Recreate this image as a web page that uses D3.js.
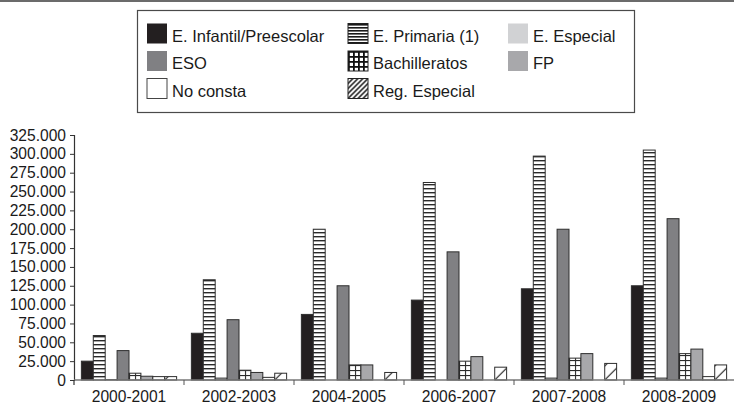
<!DOCTYPE html>
<html>
<head>
<meta charset="utf-8">
<script src="https://cdn.jsdelivr.net/npm/d3@7"></script>
<style>
  html, body { margin: 0; padding: 0; background: #fff; }
  svg { display: block; }
  text { font-family: "Liberation Sans", Arial, Helvetica, sans-serif; fill: #1a1a1a; }
</style>
</head>
<body>
<svg id="chart" width="734" height="405"></svg>
<script>
// ---- data ----
const categories = ["2000-2001", "2002-2003", "2004-2005", "2006-2007", "2007-2008", "2008-2009"];
const seriesNames = ["E. Infantil/Preescolar", "E. Primaria (1)", "E. Especial", "ESO", "Bachilleratos", "FP", "No consta", "Reg. Especial"];
const infantil   = [25000, 62000, 87000, 106000, 121000, 125000];
const primaria   = [59000, 133000, 200000, 262000, 297000, 305000];
const especial   = [500, 2500, 0, 0, 2500, 2500];
const eso        = [39000, 80000, 125000, 170000, 200000, 214000];
const bachiller  = [9000, 13000, 20000, 25000, 29000, 35000];
const fp         = [5000, 10000, 20000, 31000, 35000, 41000];
const noConsta   = [4500, 3500, 0, 0, 0, 4500];
const regEspecial= [4500, 9000, 10000, 17000, 22000, 20000];
const yTicks = [0, 25000, 50000, 75000, 100000, 125000, 150000, 175000, 200000, 225000, 250000, 275000, 300000, 325000];

const seriesValues = [infantil, primaria, especial, eso, bachiller, fp, noConsta, regEspecial];
// legend order (3 columns x 3 rows, row-major)
const legendOrder = [0, 1, 2, 3, 4, 5, 6, 7];

// ---- setup ----
const svg = d3.select("#chart");
const defs = svg.append("defs");
const W = 734, H = 405;
const margin = {left: 74, right: 0, top: 135, bottom: 25};

const loc = d3.formatLocale({decimal: ",", thousands: ".", grouping: [3], currency: ["", "€"]});
const fmt = loc.format(",d");

const x0 = d3.scaleBand().domain(categories).range([margin.left, W - margin.right]).padding(0);
const x1 = d3.scaleBand().domain(d3.range(seriesNames.length)).range([0, x0.bandwidth()])
  .paddingInner(0).paddingOuter(0.62);
const y = d3.scaleLinear().domain([0, 325000]).range([380, 135]);

// top border line
svg.append("rect").attr("x", 0).attr("y", 0).attr("width", W).attr("height", 2).attr("fill", "#6b6b6b");

// ---- patterns ----
const pPrim = defs.append("pattern").attr("id", "primBar").attr("patternUnits", "userSpaceOnUse")
  .attr("x", 0).attr("y", y(0)).attr("width", 8).attr("height", 4);
pPrim.append("rect").attr("width", 8).attr("height", 4).attr("fill", "#fff");
pPrim.append("rect").attr("y", 0).attr("width", 8).attr("height", 1.4).attr("fill", "#2a2a2a");

const pPrimL = defs.append("pattern").attr("id", "primLeg").attr("patternUnits", "userSpaceOnUse")
  .attr("width", 6).attr("height", 3);
pPrimL.append("rect").attr("width", 6).attr("height", 3).attr("fill", "#fff");
pPrimL.append("rect").attr("width", 6).attr("height", 1.6).attr("fill", "#1a1a1a");

const bw = x1.bandwidth();

const colors = {
  0: "#231f20",
  2: "#d1d2d4",
  3: "#808083",
  5: "#a8a8ab",
  6: "#ffffff"
};

function barFill(si, ci, bx) {
  if (colors[si] !== undefined) return colors[si];
  if (si === 1) return "url(#primBar)";
  if (si === 4) {
    const id = "bach" + ci;
    const p = defs.append("pattern").attr("id", id).attr("patternUnits", "userSpaceOnUse")
      .attr("x", bx).attr("y", y(0)).attr("width", bw / 2).attr("height", 5);
    p.append("rect").attr("width", bw / 2).attr("height", 5).attr("fill", "#fff");
    p.append("rect").attr("x", 0).attr("width", 1.1).attr("height", 5).attr("fill", "#2a2a2a");
    p.append("rect").attr("y", 0).attr("width", bw / 2).attr("height", 1.1).attr("fill", "#2a2a2a");
    return "url(#" + id + ")";
  }
  if (si === 7) {
    const id = "reg" + ci;
    const s = 14;
    const p = defs.append("pattern").attr("id", id).attr("patternUnits", "userSpaceOnUse")
      .attr("x", bx).attr("y", y(0)).attr("width", s).attr("height", s);
    p.append("rect").attr("width", s).attr("height", s).attr("fill", "#fff");
    p.append("path").attr("d", `M0,${s} L${s},0 M-2,2 L2,-2 M${s-2},${s+2} L${s+2},${s-2}`)
      .attr("stroke", "#1a1a1a").attr("stroke-width", 1.1);
    return "url(#" + id + ")";
  }
  return "#fff";
}

// ---- bars ----
const gBars = svg.append("g");
categories.forEach((cat, ci) => {
  seriesValues.forEach((vals, si) => {
    const v = vals[ci];
    const bx = x0(cat) + x1(si);
    if (v <= 0) return;
    gBars.append("rect")
      .attr("x", bx)
      .attr("y", y(v))
      .attr("width", bw)
      .attr("height", y(0) - y(v))
      .attr("fill", barFill(si, ci, bx))
      .attr("stroke", "#2e2e2e")
      .attr("stroke-width", 1);
  });
});

// ---- axes ----
const yAxis = d3.axisLeft(y).tickValues(yTicks).tickFormat(fmt).tickSize(4).tickPadding(4);
const gy = svg.append("g").attr("transform", `translate(${margin.left},0)`).call(yAxis);
gy.select(".domain").attr("stroke", "#333").attr("stroke-width", 1.2);
gy.selectAll(".tick line").attr("stroke", "#333");
gy.selectAll(".tick text").attr("font-size", "15.6px").attr("fill", "#1a1a1a")
  .style("font-family", '"Liberation Sans", Arial, sans-serif');

const gx = svg.append("g").attr("transform", `translate(0,${y(0)})`);
gx.append("line").attr("x1", x0.range()[0]).attr("x2", x0.range()[1]).attr("y1", 0).attr("y2", 0)
  .attr("stroke", "#777").attr("stroke-width", 1.4);
categories.forEach((cat, ci) => {
  if (ci === 0) return;
  gx.append("line").attr("x1", x0(cat)).attr("x2", x0(cat)).attr("y1", 0).attr("y2", 5)
    .attr("stroke", "#555").attr("stroke-width", 1);
});
gx.append("line").attr("x1", x0.range()[0]).attr("x2", x0.range()[0]).attr("y1", 0).attr("y2", 5)
  .attr("stroke", "#333").attr("stroke-width", 1.2);
gx.selectAll("text.xl").data(categories).enter().append("text")
  .attr("class", "xl")
  .attr("x", d => x0(d) + x0.bandwidth() / 2)
  .attr("y", 21.5)
  .attr("text-anchor", "middle")
  .attr("font-size", "15.6px")
  .text(d => d);

// ---- legend ----
const leg = svg.append("g");
leg.append("rect").attr("x", 137.5).attr("y", 10.5).attr("width", 497).attr("height", 102)
  .attr("fill", "#fff").attr("stroke", "#4a4a4a").attr("stroke-width", 1.2);

const colX = [147, 348, 508];
const rowBase = [41.5, 69, 96.5];

const pBachL = defs.append("pattern").attr("id", "bachLeg").attr("patternUnits", "userSpaceOnUse")
  .attr("x", colX[1]).attr("y", rowBase[1] - 18).attr("width", 5).attr("height", 5);
pBachL.append("rect").attr("width", 5).attr("height", 5).attr("fill", "#fff");
pBachL.append("rect").attr("width", 1.8).attr("height", 5).attr("fill", "#111");
pBachL.append("rect").attr("width", 5).attr("height", 1.8).attr("fill", "#111");

const pRegL = defs.append("pattern").attr("id", "regLeg").attr("patternUnits", "userSpaceOnUse")
  .attr("x", colX[1]).attr("y", rowBase[2] - 18).attr("width", 5).attr("height", 5);
pRegL.append("rect").attr("width", 5).attr("height", 5).attr("fill", "#fff");
pRegL.append("path").attr("d", "M0,5 L5,0 M-1,1 L1,-1 M4,6 L6,4")
  .attr("stroke", "#111").attr("stroke-width", 1.5);

const legFill = {0: "#231f20", 1: "url(#primLeg)", 2: "#d1d2d4", 3: "#808083", 4: "url(#bachLeg)", 5: "#a8a8ab", 6: "#fff", 7: "url(#regLeg)"};

legendOrder.forEach((si, k) => {
  const col = k % 3, row = Math.floor(k / 3);
  const sx = colX[col], base = rowBase[row];
  leg.append("rect").attr("x", sx).attr("y", base - 18).attr("width", 20).attr("height", 20)
    .attr("fill", legFill[si])
    .attr("stroke", (si === 6) ? "#444" : (si === 1 || si === 4 || si === 7) ? "#222" : "none")
    .attr("stroke-width", 1);
  leg.append("text").attr("x", sx + 25).attr("y", base).attr("font-size", "16.5px").text(seriesNames[si]);
});
</script>
</body>
</html>
